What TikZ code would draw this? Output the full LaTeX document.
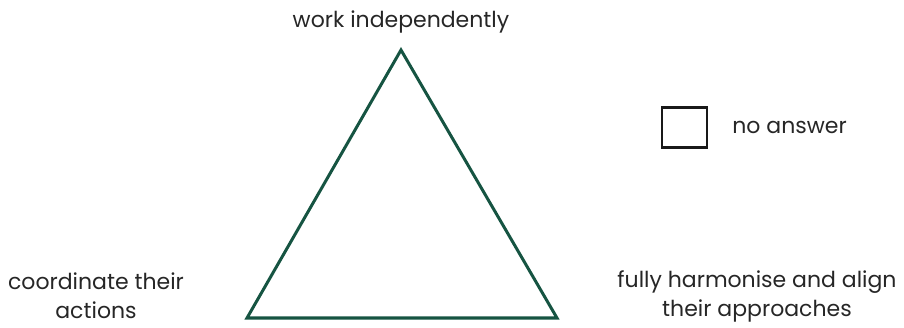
\documentclass[tikz,border=0pt]{standalone}
\usepackage{fontspec}
\setmainfont{Poppins}
\usetikzlibrary{positioning}
\definecolor{trigreen}{RGB}{22,84,66}

\begin{document}
\begin{tikzpicture}[
        x=1pt, y=-1pt,
        font=\fontsize{22}{29}\selectfont,
        label/.style={align=center, inner sep=0pt, text=black!85},
        side/.style={draw=trigreen, line width=3pt, line join=miter},
        answerbox/.style={draw=black!90, line width=2.4pt, minimum width=45pt, minimum height=40pt, inner sep=0pt}
      ]
        \useasboundingbox (0,0) rectangle (904,328);

        \coordinate (top) at (401,50);
        \coordinate (left) at (247,318);
        \coordinate (right) at (557,318);

        \draw[side] (top) -- (left) -- (right) -- cycle;

        \node[label] (work) at (401,22) {work independently};
        \node[label] (coord) at (96,296) {coordinate their\\actions};
        \node[label] (harm) at (757,296) {fully harmonise and align\\their approaches};

        \node[answerbox] (box) at (684.5,127.5) {};
        \node[label, right=24pt of box] (noans) {no answer};
      \end{tikzpicture}
\end{document}
